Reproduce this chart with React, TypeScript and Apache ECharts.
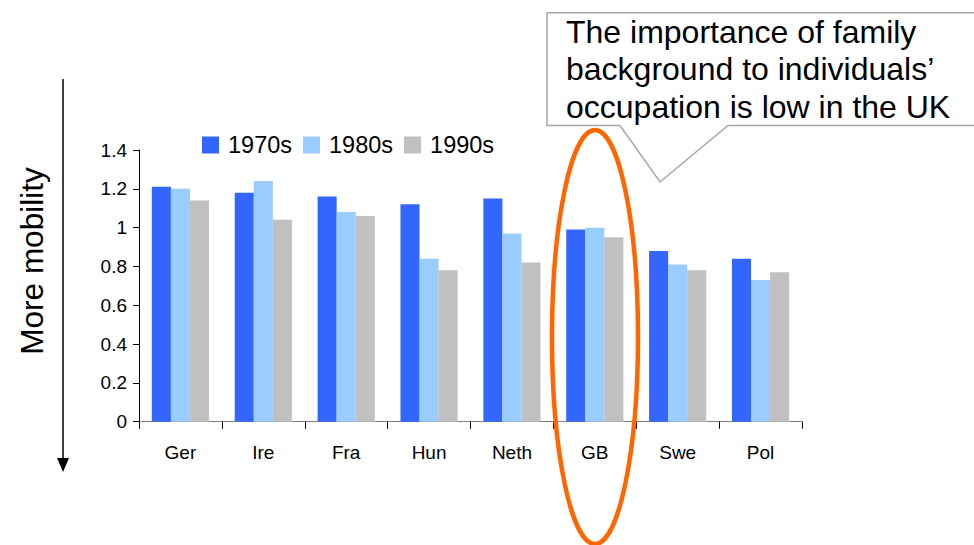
import React, { useEffect, useRef } from "react";
import * as echarts from "echarts";

const categories = ["Ger", "Ire", "Fra", "Hun", "Neth", "GB", "Swe", "Pol"];
const s1970 = [1.21, 1.18, 1.16, 1.12, 1.15, 0.99, 0.88, 0.84];
const s1980 = [1.2, 1.24, 1.08, 0.84, 0.97, 1.0, 0.81, 0.73];
const s1990 = [1.14, 1.04, 1.06, 0.78, 0.82, 0.95, 0.78, 0.77];
const seriesNames = ["1970s", "1980s", "1990s"];
const calloutLines = [
  "The importance of family",
  "background to individuals\u2019",
  "occupation is low in the UK",
];
const sideLabel = "More mobility";

const FONT = "'Liberation Sans', Arial, sans-serif";

export default function App() {
  const ref = useRef<HTMLDivElement>(null);
  useEffect(() => {
    if (!ref.current) return;
    const chart = echarts.init(ref.current, undefined, { renderer: "svg" });
    const colors = ["#3366FF", "#99CCFF", "#C0C0C0"];
    const data = [s1970, s1980, s1990];
    chart.setOption({
      animation: false,
      backgroundColor: "#ffffff",
      textStyle: { fontFamily: FONT },
      grid: { left: 139, right: 172, top: 150, bottom: 123.3, containLabel: false },
      legend: {
        left: 202,
        top: 133,
        padding: 0,
        itemWidth: 17,
        itemHeight: 17,
        itemGap: 11,
        icon: "rect",
        data: seriesNames,
        textStyle: { fontSize: 23.5, color: "#000", fontFamily: FONT, padding: [0, 0, 0, 4] },
      },
      xAxis: {
        type: "category",
        data: categories,
        axisLine: { lineStyle: { color: "#808080", width: 1 } },
        axisTick: { show: true, length: 7, lineStyle: { color: "#000" } },
        axisLabel: { fontSize: 19, color: "#000", margin: 21, fontFamily: FONT },
        splitLine: { show: false },
      },
      yAxis: {
        type: "value",
        min: 0,
        max: 1.4,
        interval: 0.2,
        axisLine: { show: true, lineStyle: { color: "#000", width: 1 } },
        axisTick: { show: true, length: 6, lineStyle: { color: "#000" } },
        axisLabel: { fontSize: 19, color: "#000", margin: 12, fontFamily: FONT },
        splitLine: { show: false },
      },
      series: seriesNames.map((name, i) => ({
        name,
        type: "bar",
        data: data[i],
        barGap: "0%",
        barCategoryGap: "31%",
        itemStyle: { color: colors[i] },
      })),
      graphic: [
        {
          type: "polygon",
          z: 100,
          shape: {
            points: [
              [547, 12.7],
              [985, 12.7],
              [985, 125.5],
              [728, 125.5],
              [660, 182],
              [620, 125.5],
              [547, 125.5],
            ],
          },
          style: { fill: "#ffffff", stroke: "#A6A6A6", lineWidth: 1.5 },
        },
        {
          type: "text",
          z: 101,
          x: 566,
          y: 13,
          style: {
            text: calloutLines.join("\n"),
            fontSize: 32,
            lineHeight: 37.5,
            fontFamily: FONT,
            fill: "#000",
            textAlign: "left",
            textVerticalAlign: "top",
          },
        },
        {
          type: "ellipse",
          z: 102,
          shape: { cx: 595, cy: 337, rx: 43, ry: 207 },
          style: { fill: "none", stroke: "#FF6600", lineWidth: 4.5 },
        },
        {
          type: "line",
          z: 100,
          shape: { x1: 63, y1: 79, x2: 63, y2: 460 },
          style: { stroke: "#000", lineWidth: 1.5 },
        },
        {
          type: "polygon",
          z: 100,
          shape: { points: [[57, 458], [69, 458], [63, 472]] },
          style: { fill: "#000" },
        },
        {
          type: "text",
          z: 100,
          x: 32,
          y: 261,
          rotation: Math.PI / 2,
          style: {
            text: sideLabel,
            fontSize: 31.5,
            fontFamily: FONT,
            fill: "#000",
            textAlign: "center",
            textVerticalAlign: "middle",
          },
        },
      ],
    });
    return () => chart.dispose();
  }, []);
  return (
    <div
      ref={ref}
      style={{ position: "fixed", left: 0, top: 0, width: 974, height: 545 }}
    />
  );
}
